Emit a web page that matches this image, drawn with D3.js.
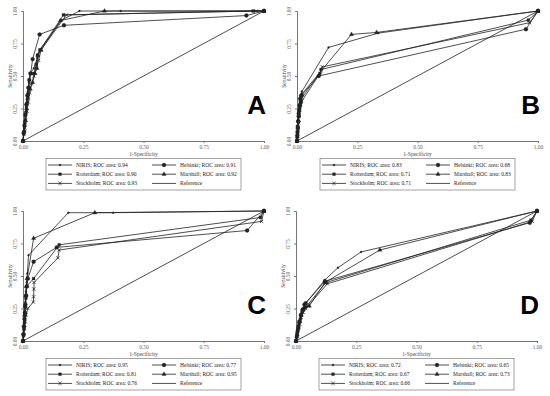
<!DOCTYPE html>
<html>
<head>
<meta charset="utf-8">
<script src="https://cdn.jsdelivr.net/npm/d3@7"></script>
<style>
  body { margin: 0; background: #fff; }
  svg { display: block; }
  .tick text { font-family: "Liberation Serif", serif; fill: #666; }
  .lab { font-family: "Liberation Serif", serif; fill: #444; }
  .leg { font-family: "Liberation Serif", serif; fill: #222; }
  .letter { font-family: "Liberation Sans", Arial, sans-serif; font-weight: bold; fill: #000; }
</style>
</head>
<body>
<script>
// series order used in every panel
const seriesNames = ['NIRIS', 'Helsinki', 'Rotterdam', 'Marshall', 'Stockholm'];
const panelLetters = ['A', 'B', 'C', 'D'];
const xTicks = [0, 0.25, 0.5, 0.75, 1];
const yTicks = [0, 0.25, 0.5, 0.75, 1];

// ROC areas per panel (same order as seriesNames)
const aucA = [0.94, 0.91, 0.90, 0.92, 0.93];
const aucB = [0.83, 0.68, 0.71, 0.83, 0.71];
const aucC = [0.95, 0.77, 0.81, 0.95, 0.76];
const aucD = [0.72, 0.65, 0.67, 0.73, 0.66];

// [1-specificity, sensitivity] points
const curvesA = {
  NIRIS:     [[0,0],[0.002,0.05],[0.004,0.1],[0.006,0.15],[0.009,0.21],[0.012,0.26],[0.016,0.32],[0.02,0.38],[0.025,0.45],[0.03,0.52],[0.045,0.56],[0.06,0.64],[0.07,0.7],[0.16,0.93],[0.234,1],[0.405,1],[1,1]],
  Helsinki:  [[0,0],[0.003,0.06],[0.006,0.12],[0.01,0.2],[0.014,0.28],[0.018,0.35],[0.022,0.41],[0.026,0.47],[0.032,0.52],[0.04,0.63],[0.069,0.82],[0.17,0.89],[0.927,0.965],[1,1]],
  Rotterdam: [[0,0],[0.004,0.07],[0.008,0.14],[0.012,0.22],[0.016,0.29],[0.02,0.36],[0.025,0.41],[0.03,0.52],[0.045,0.52],[0.055,0.59],[0.06,0.66],[0.07,0.7],[0.168,0.97],[0.955,1],[1,1]],
  Marshall:  [[0,0],[0.005,0.08],[0.01,0.16],[0.015,0.25],[0.02,0.33],[0.03,0.4],[0.04,0.45],[0.05,0.52],[0.058,0.56],[0.062,0.66],[0.075,0.7],[0.155,0.926],[0.338,1],[1,1]],
  Stockholm: [[0,0],[0.004,0.05],[0.008,0.1],[0.012,0.16],[0.017,0.23],[0.022,0.3],[0.028,0.37],[0.035,0.44],[0.045,0.5],[0.055,0.56],[0.065,0.62],[0.075,0.7],[0.18,0.97],[0.968,1],[1,1]]
};
const curvesB = {
  NIRIS:     [[0,0],[0.001,0.04],[0.002,0.08],[0.003,0.12],[0.004,0.16],[0.005,0.2],[0.007,0.24],[0.01,0.28],[0.013,0.32],[0.016,0.35],[0.02,0.38],[0.131,0.72],[0.338,0.83],[1,1]],
  Helsinki:  [[0,0],[0.001,0.03],[0.002,0.07],[0.003,0.11],[0.005,0.15],[0.007,0.19],[0.009,0.23],[0.012,0.27],[0.015,0.31],[0.018,0.35],[0.09,0.5],[0.95,0.86],[1,1]],
  Rotterdam: [[0,0],[0.002,0.05],[0.004,0.1],[0.006,0.15],[0.008,0.2],[0.011,0.25],[0.014,0.28],[0.018,0.3],[0.095,0.52],[0.1,0.55],[0.96,0.93],[1,1]],
  Marshall:  [[0,0],[0.001,0.05],[0.003,0.1],[0.005,0.16],[0.007,0.22],[0.01,0.28],[0.012,0.33],[0.02,0.36],[0.226,0.82],[0.33,0.835],[1,1]],
  Stockholm: [[0,0],[0.002,0.04],[0.004,0.09],[0.006,0.14],[0.008,0.19],[0.01,0.24],[0.014,0.28],[0.02,0.33],[0.1,0.54],[0.105,0.57],[0.965,0.91],[1,1]]
};
const curvesC = {
  NIRIS:     [[0,0],[0.002,0.05],[0.004,0.1],[0.006,0.16],[0.008,0.22],[0.01,0.3],[0.012,0.38],[0.015,0.45],[0.018,0.52],[0.023,0.66],[0.188,0.987],[0.298,0.987],[0.374,0.987],[1,1]],
  Helsinki:  [[0,0],[0.002,0.05],[0.004,0.11],[0.006,0.17],[0.008,0.22],[0.01,0.28],[0.013,0.35],[0.016,0.42],[0.02,0.48],[0.044,0.61],[0.14,0.72],[0.93,0.85],[1,1]],
  Rotterdam: [[0,0],[0.002,0.04],[0.004,0.09],[0.006,0.14],[0.008,0.2],[0.01,0.26],[0.012,0.33],[0.015,0.42],[0.044,0.48],[0.15,0.74],[0.985,0.95],[1,1]],
  Marshall:  [[0,0],[0.002,0.06],[0.004,0.12],[0.006,0.2],[0.008,0.27],[0.011,0.35],[0.014,0.42],[0.017,0.48],[0.044,0.79],[0.298,0.987],[1,1]],
  Stockholm: [[0,0],[0.003,0.05],[0.006,0.1],[0.009,0.15],[0.013,0.2],[0.02,0.25],[0.043,0.3],[0.044,0.34],[0.045,0.4],[0.046,0.45],[0.145,0.64],[0.15,0.7],[0.99,0.92],[1,1]]
};
const curvesD = {
  NIRIS:     [[0,0],[0.004,0.04],[0.008,0.08],[0.012,0.12],[0.016,0.16],[0.02,0.2],[0.03,0.25],[0.04,0.29],[0.12,0.47],[0.174,0.564],[0.27,0.685],[1,1]],
  Helsinki:  [[0,0],[0.003,0.03],[0.006,0.07],[0.01,0.11],[0.014,0.15],[0.02,0.2],[0.027,0.24],[0.035,0.28],[0.04,0.29],[0.12,0.46],[0.97,0.91],[1,1]],
  Rotterdam: [[0,0],[0.004,0.05],[0.008,0.09],[0.012,0.13],[0.018,0.17],[0.025,0.22],[0.032,0.25],[0.04,0.26],[0.125,0.45],[0.975,0.93],[1,1]],
  Marshall:  [[0,0],[0.005,0.05],[0.01,0.1],[0.016,0.15],[0.022,0.2],[0.03,0.24],[0.055,0.27],[0.12,0.45],[0.348,0.7],[1,1]],
  Stockholm: [[0,0],[0.005,0.04],[0.01,0.09],[0.015,0.13],[0.022,0.18],[0.03,0.22],[0.04,0.25],[0.05,0.27],[0.13,0.44],[0.98,0.92],[1,1]]
};

const allCurves = [curvesA, curvesB, curvesC, curvesD];
const allAuc = [aucA, aucB, aucC, aucD];
const offsets = [[0, 0], [274, 0], [0, 200], [273, 200]];

const markerOf = {
  NIRIS:     { type: d3.symbolCircle, size: 3, fill: true },
  Helsinki:  { type: d3.symbolCircle, size: 12, fill: true },
  Rotterdam: { type: d3.symbolSquare, size: 8, fill: true },
  Marshall:  { type: d3.symbolTriangle, size: 8, fill: true },
  Stockholm: { type: d3.symbolX, size: 8, fill: false }
};
const ink = '#222';

const svg = d3.select('body').append('svg')
    .attr('width', 550)
    .attr('height', 396);

const drawMarker = (sel, name) => {
  const m = markerOf[name];
  sel.attr('d', d3.symbol().type(m.type).size(m.size))
    .attr('fill', m.fill ? ink : 'none')
    .attr('stroke', ink)
    .attr('stroke-width', m.fill ? 0.3 : 0.8);
};

panelLetters.forEach((letter, p) => {
  const g = svg.append('g')
      .attr('transform', `translate(${offsets[p][0]},${offsets[p][1]})`);

  const x = d3.scaleLinear().domain([0, 1]).range([23, 264]);
  const y = d3.scaleLinear().domain([0, 1]).range([141, 11]);

  // axes
  const xAxis = g.append('g')
      .attr('transform', 'translate(0,141)')
      .call(d3.axisBottom(x).tickValues(xTicks).tickFormat(d3.format('.2f')).tickSize(2).tickPadding(2));
  const yAxis = g.append('g')
      .attr('transform', 'translate(23,0)')
      .call(d3.axisLeft(y).tickValues(yTicks).tickFormat(d3.format('.2f')).tickSize(2).tickPadding(2));
  [xAxis, yAxis].forEach(a => {
    a.select('.domain').attr('stroke', '#777');
    a.selectAll('.tick line').attr('stroke', '#777');
    a.selectAll('.tick text').attr('font-size', 5.5);
  });
  yAxis.selectAll('.tick text')
      .attr('text-anchor', 'middle')
      .attr('x', 0).attr('dy', 0)
      .attr('transform', 'translate(-6,0) rotate(-90)');

  g.append('text').attr('class', 'lab')
      .attr('x', (x(0) + x(1)) / 2).attr('y', 156)
      .attr('text-anchor', 'middle').attr('font-size', 5.5)
      .text('1-Specificity');
  g.append('text').attr('class', 'lab')
      .attr('transform', `translate(12,${(y(0) + y(1)) / 2}) rotate(-90)`)
      .attr('text-anchor', 'middle').attr('font-size', 5.5)
      .text('Sensitivity');

  // reference diagonal
  g.append('line')
      .attr('x1', x(0)).attr('y1', y(0)).attr('x2', x(1)).attr('y2', y(1))
      .attr('stroke', ink).attr('stroke-width', 0.8);

  const line = d3.line().x(d => x(d[0])).y(d => y(d[1]));
  const curves = allCurves[p];
  seriesNames.forEach(name => {
    g.append('path')
        .attr('d', line(curves[name]))
        .attr('fill', 'none')
        .attr('stroke', ink)
        .attr('stroke-width', 0.8);
    g.selectAll(null)
        .data(curves[name])
        .enter()
        .append('path')
        .attr('transform', d => `translate(${x(d[0])},${y(d[1])})`)
        .call(drawMarker, name);
  });

  g.append('text').attr('class', 'letter')
      .attr('x', 266).attr('y', 114)
      .attr('text-anchor', 'end').attr('font-size', 26)
      .text(letter);

  // legend
  const leg = g.append('g');
  leg.append('rect')
      .attr('x', 46).attr('y', 158.5).attr('width', 195).attr('height', 31.5)
      .attr('fill', 'none').attr('stroke', '#666').attr('stroke-width', 0.6);
  const auc = allAuc[p];
  const items = [
    { name: 'NIRIS', col: 0, row: 0 },
    { name: 'Helsinki', col: 1, row: 0 },
    { name: 'Rotterdam', col: 0, row: 1 },
    { name: 'Marshall', col: 1, row: 1 },
    { name: 'Stockholm', col: 0, row: 2 },
    { name: 'Reference', col: 1, row: 2 }
  ];
  items.forEach(it => {
    const lx = it.col === 0 ? 48 : 152;
    const ly = 165 + it.row * 9.2;
    leg.append('line')
        .attr('x1', lx).attr('x2', lx + 24).attr('y1', ly).attr('y2', ly)
        .attr('stroke', ink).attr('stroke-width', 0.8);
    if (it.name !== 'Reference') {
      leg.append('path')
          .attr('transform', `translate(${lx + 12},${ly})`)
          .call(drawMarker, it.name);
    }
    const i = seriesNames.indexOf(it.name);
    leg.append('text').attr('class', 'leg')
        .attr('x', lx + 28).attr('y', ly + 2)
        .attr('font-size', 5.5)
        .text(i < 0 ? 'Reference' : `${it.name}; ROC area: ${auc[i].toFixed(2)}`);
  });
});
</script>
</body>
</html>
